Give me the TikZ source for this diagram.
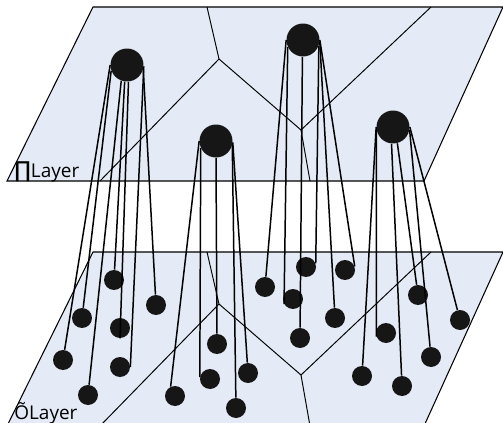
\documentclass[tikz,border=0pt]{standalone}
\usepackage{fontspec}
\setmainfont{Open Sans}
\newfontfamily\dejavu{DejaVu Sans}
\usepackage{tikz}
\definecolor{planefill}{RGB}{228,235,246}
\definecolor{dotfill}{RGB}{22,22,22}

\begin{document}
\begin{tikzpicture}[x=0.02cm,y=-0.02cm,
  hub/.style={circle,fill=dotfill,minimum size=0.66cm,inner sep=0pt},
  leaf/.style={circle,fill=dotfill,minimum size=0.4cm,inner sep=0pt},
  wire/.style={line width=0.85pt},
  cell/.style={line width=0.55pt}]
 \clip (0,0) rectangle (503,422);
 % upper plane
 \filldraw[fill=planefill,line width=0.6pt] (93,7)--(503,7)--(424,181)--(7,181)--cycle;
 \draw[cell] (207,7)--(219,59)--(100,181);
 \draw[cell] (219,59)--(301,130)--(431,7);
 \draw[cell] (301,130)--(310,181);
 \node[anchor=base west,inner sep=0pt] (toplabel) at (14,177) {\fontsize{10.8}{12}\selectfont{\dejavu\fontsize{12.5}{14}\selectfont ∏}Layer};
 % lower plane
 \filldraw[fill=planefill,line width=0.6pt] (93,252)--(503,252)--(424,426)--(7,426)--cycle;
 \draw[cell] (207,252)--(219,304)--(100,426);
 \draw[cell] (219,304)--(301,375)--(431,252);
 \draw[cell] (301,375)--(310,426);
 \node[anchor=base west,inner sep=0pt] (botlabel) at (14,419) {\fontsize{10.8}{12}\selectfont ÕLayer};
 % hubs
 \node[hub] (pa) at (127,65) {};
 \node[hub] (pb) at (216,141) {};
 \node[hub] (pc) at (303,40) {};
 \node[hub] (pd) at (393,127) {};
 % leaves
 \node[leaf] (q1) at (114,280) {};
 \node[leaf] (q2) at (156,305) {};
 \node[leaf] (q3) at (82,318) {};
 \node[leaf] (q4) at (120,328) {};
 \node[leaf] (q5) at (63,360) {};
 \node[leaf] (q6) at (120,367) {};
 \node[leaf] (q7) at (88,395) {};
 \node[leaf] (q8) at (175,396) {};
 \node[leaf] (q9) at (217,344) {};
 \node[leaf] (q10) at (210,379) {};
 \node[leaf] (q11) at (248,373) {};
 \node[leaf] (q12) at (236,408) {};
 \node[leaf] (q13) at (265,287) {};
 \node[leaf] (q14) at (306,267) {};
 \node[leaf] (q15) at (345,270) {};
 \node[leaf] (q16) at (293,299) {};
 \node[leaf] (q17) at (335,318) {};
 \node[leaf] (q18) at (300,338) {};
 \node[leaf] (q19) at (418,295) {};
 \node[leaf] (q20) at (460,320) {};
 \node[leaf] (q21) at (386,333) {};
 \node[leaf] (q22) at (431,357) {};
 \node[leaf] (q23) at (362,376) {};
 \node[leaf] (q24) at (402,386) {};
 % links
 \draw[wire] (pa.180)--(q5);
 \draw[wire] (pa.200)--(q3);
 \draw[wire] (pa.250)--(q7);
 \draw[wire] (pa.262)--(q1);
 \draw[wire] (pa.275)--(q4.south);
 \draw[wire] (pa.-5)--(q6.east);
 \draw[wire] (pa.-15)--(q2);
 \draw[wire] (pb.180)--(q8.115);
 \draw[wire] (pb.205)--(q10.170);
 \draw[wire] (pb.270)--(q9);
 \draw[wire] (pb.-15)--(q12);
 \draw[wire] (pb.-5)--(q11);
 \draw[wire] (pc.180)--(q13);
 \draw[wire] (pc.205)--(q16.210);
 \draw[wire] (pc.268)--(q18);
 \draw[wire] (pc.-20)--(q14.20);
 \draw[wire] (pc.-5)--(q17);
 \draw[wire] (pc.0)--(q15.20);
 \draw[wire] (pd.180)--(q23);
 \draw[wire] (pd.190)--(q21.200);
 \draw[wire] (pd.265)--(q24);
 \draw[wire] (pd.285)--(q19);
 \draw[wire] (pd.-10)--(q22);
 \draw[wire] (pd.0)--(q20);
\end{tikzpicture}
\end{document}
